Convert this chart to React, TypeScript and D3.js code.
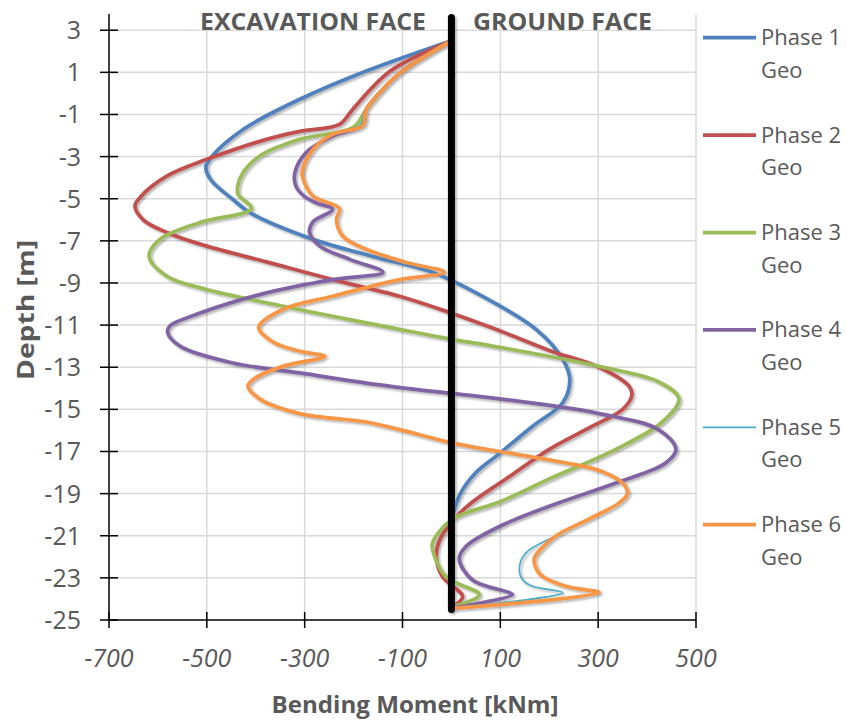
import React from 'react';
import * as d3 from 'd3';

// [bending moment kNm, depth m]
const phase1: [number, number][] = [
  [0, 2.5], [-174, 1.06], [-310, -0.28], [-426, -1.71], [-490, -3.0], [-502, -3.5],
  [-492, -4.1], [-447, -5.03], [-412, -5.66], [-283, -6.93], [-161, -7.74], [-38, -8.5],
  [57, -9.55], [173, -11.2], [227, -12.6], [242, -13.6], [227, -14.7], [166, -15.8],
  [98, -17.1], [50, -18.0], [16, -19.1], [3, -20.1], [0, -22.3], [0, -24.4],
];
const phase2: [number, number][] = [
  [0, 2.5], [-125, 1.06], [-202, -0.76], [-229, -1.47], [-310, -1.8], [-378, -2.18],
  [-500, -3.13], [-582, -3.93], [-637, -4.95], [-647, -5.35], [-630, -6.0], [-582, -6.6],
  [-500, -7.25], [-378, -8.0], [-243, -8.84], [-106, -9.63], [-4, -10.4], [91, -11.2],
  [200, -12.2], [302, -13.0], [363, -13.9], [369, -14.3], [350, -15.0], [288, -15.8],
  [200, -16.9], [118, -18.2], [43, -19.4], [10, -20.1], [-24, -21.2], [-31, -22.0],
  [-18, -22.95], [23, -23.9], [0, -24.4],
];
const phase3: [number, number][] = [
  [0, 2.5], [-100, 1.06], [-140, 0.2], [-174, -0.76], [-200, -1.6], [-310, -2.18],
  [-392, -2.97], [-426, -3.76], [-437, -4.4], [-436, -4.8], [-409, -5.46], [-514, -6.13],
  [-596, -6.93], [-618, -7.73], [-582, -8.68], [-500, -9.31], [-378, -9.94], [-243, -10.58],
  [-106, -11.2], [-4, -11.65], [98, -12.05], [302, -12.96], [424, -13.7], [465, -14.5],
  [431, -15.6], [336, -16.9], [200, -18.3], [98, -19.4], [3, -20.2], [-38, -21.3],
  [-38, -21.7], [-11, -22.95], [57, -23.8], [0, -24.4],
];
const phase4: [number, number][] = [
  [0, 2.5], [-100, 1.06], [-140, 0.2], [-174, -0.76], [-181, -1.5], [-243, -2.02],
  [-297, -2.81], [-320, -3.76], [-318, -4.4], [-300, -4.9], [-276, -5.2], [-243, -5.5],
  [-283, -6.1], [-290, -6.6], [-269, -7.25], [-208, -7.88], [-140, -8.49], [-243, -8.84],
  [-378, -9.47], [-514, -10.43], [-576, -11.05], [-580, -11.36], [-555, -12.0], [-447, -12.8],
  [-310, -13.27], [-174, -13.75], [-38, -14.15], [98, -14.5], [302, -15.2], [424, -15.97],
  [459, -16.9], [438, -17.55], [336, -18.5], [200, -19.6], [98, -20.56], [30, -21.5],
  [16, -22.1], [43, -23.1], [118, -23.7], [125, -23.8], [0, -24.45],
];
const phase5: [number, number][] = [
  [0, 2.5], [-100, 1.06], [-140, 0.2], [-174, -0.76], [-188, -1.55], [-243, -1.94],
  [-283, -2.66], [-302, -3.45], [-305, -3.9], [-283, -4.88], [-229, -5.46], [-235, -5.98],
  [-222, -6.78], [-174, -7.4], [-92, -8.03], [-14, -8.49], [-106, -8.84], [-243, -9.63],
  [-345, -10.26], [-394, -11.1], [-365, -11.8], [-310, -12.24], [-259, -12.48], [-345, -12.96],
  [-406, -13.59], [-416, -13.9], [-392, -14.5], [-310, -15.2], [-174, -15.6], [-106, -15.96],
  [3, -16.6], [98, -17.0], [200, -17.4], [302, -17.9], [350, -18.5], [360, -18.98],
  [343, -19.44], [282, -20.2], [214, -21.0], [153, -21.8], [139, -22.5], [146, -23.1],
  [166, -23.4], [228, -23.7], [0, -24.45],
];
const phase6: [number, number][] = [
  [0, 2.5], [-100, 1.06], [-140, 0.2], [-174, -0.76], [-181, -1.52], [-243, -1.94],
  [-283, -2.66], [-302, -3.45], [-305, -3.9], [-283, -4.88], [-229, -5.46], [-235, -5.98],
  [-222, -6.78], [-174, -7.4], [-92, -8.03], [-14, -8.49], [-106, -8.84], [-243, -9.63],
  [-345, -10.26], [-394, -11.1], [-365, -11.8], [-310, -12.24], [-259, -12.48], [-345, -12.96],
  [-406, -13.59], [-416, -13.9], [-392, -14.5], [-310, -15.2], [-174, -15.6], [-106, -15.96],
  [3, -16.6], [98, -17.0], [200, -17.4], [302, -17.9], [350, -18.5], [360, -18.98],
  [343, -19.44], [282, -20.2], [214, -21.0], [180, -21.7], [169, -22.1], [180, -22.8],
  [234, -23.4], [302, -23.7], [0, -24.45],
];
const wall: [number, number][] = [[0, 3.6], [0, -24.5]];

const seriesData = [phase1, phase2, phase3, phase4, phase5, phase6];
const seriesNames = ['Phase 1', 'Phase 2', 'Phase 3', 'Phase 4', 'Phase 5', 'Phase 6'];
const seriesColors = ['#4F81BD', '#C0504D', '#9BBB59', '#8064A2', '#4BACC6', '#F79646'];

const depthTicks = [3, 1, -1, -3, -5, -7, -9, -11, -13, -15, -17, -19, -21, -23, -25];
const momentTicks = [-700, -500, -300, -100, 100, 300, 500];

const W = 847;
const H = 722;
const FONT = '"Open Sans", "DejaVu Sans", sans-serif';
const GREY = '#595959';

export default function App() {
  const left = 109;
  const right = 696;
  const top = 14;
  const bottom = 620;

  const x = d3.scaleLinear().domain([-700, 500]).range([left, right]);
  const y = d3.scaleLinear().domain([-25, 3.77]).range([bottom, top]);

  const line = d3.line<[number, number]>()
    .curve(d3.curveCatmullRom.alpha(0.5))
    .x(d => x(d[0]))
    .y(d => y(d[1]));

  const legendX = 703;
  const legendY = 37.7;
  const legendStep = 97.4;

  return (
    <svg width={W} height={H} style={{ position: 'absolute', left: 0, top: 0, background: '#fff' }}>
      <defs>
        <filter id="shadow" x="-10%" y="-10%" width="120%" height="120%">
          <feDropShadow dx="1.8" dy="1.8" stdDeviation="1.3" floodColor="#000" floodOpacity="0.3" />
        </filter>
      </defs>
      <rect width={W} height={H} fill="#fff" />

      {/* gridlines */}
      {depthTicks.filter(d => d !== -25).map(d => (
        <line key={'h' + d} x1={left} x2={right} y1={y(d)} y2={y(d)} stroke="#D9D9D9" strokeWidth={1.5} />
      ))}
      {momentTicks.filter(m => m !== -700).map(m => (
        <line key={'v' + m} x1={x(m)} x2={x(m)} y1={top} y2={bottom} stroke="#D9D9D9" strokeWidth={1.5} />
      ))}

      {/* title boxes with white fill over the grid */}
      <rect x={196} y={4} width={234} height={25.5} fill="#fff" />
      <rect x={468} y={4} width={190} height={25.5} fill="#fff" />
      <text x={200} y={30} fontFamily={FONT} fontWeight="bold" fontSize={23} fill={GREY}
        textLength={226} lengthAdjust="spacingAndGlyphs">EXCAVATION FACE</text>
      <text x={473} y={30} fontFamily={FONT} fontWeight="bold" fontSize={23} fill={GREY}
        textLength={179} lengthAdjust="spacingAndGlyphs">GROUND FACE</text>

      {/* axes */}
      <line x1={left} x2={left} y1={top} y2={bottom} stroke="#000" strokeWidth={1.5} />
      <line x1={left} x2={right} y1={bottom} y2={bottom} stroke="#000" strokeWidth={1.5} />
      {depthTicks.map(d => (
        <g key={'yt' + d}>
          <line x1={left - 9} x2={left + 9} y1={y(d)} y2={y(d)} stroke="#000" strokeWidth={1.5} />
          <text x={81} y={y(d) + 9} textAnchor="end" fontFamily={FONT} fontSize={25} fill={GREY}>{d}</text>
        </g>
      ))}
      {momentTicks.map(m => (
        <g key={'xt' + m}>
          <line x1={x(m)} x2={x(m)} y1={bottom - 8} y2={bottom + 8} stroke="#000" strokeWidth={1.5} />
          <text x={x(m)} y={667} textAnchor="middle" fontFamily={FONT} fontStyle="italic" fontSize={25} fill={GREY}>{m}</text>
        </g>
      ))}

      {/* axis titles */}
      <text transform="translate(33.5,310) rotate(-90)" textAnchor="middle" fontFamily={FONT} fontWeight="bold"
        fontSize={23} fill={GREY} textLength={140} lengthAdjust="spacingAndGlyphs">Depth  [m]</text>
      <text x={415} y={713} textAnchor="middle" fontFamily={FONT} fontWeight="bold" fontSize={23} fill={GREY}
        textLength={287} lengthAdjust="spacingAndGlyphs">Bending Moment [kNm]</text>

      {/* series */}
      <g filter="url(#shadow)">
        {seriesData.map((data, i) => (
          <path key={seriesNames[i]} d={line(data) || ''} fill="none" stroke={seriesColors[i]}
            strokeWidth={i === 4 ? 1.75 : 3.75} strokeLinejoin="round" strokeLinecap="round" />
        ))}
        <path d={line(wall) || ''} fill="none" stroke="#000" strokeWidth={7} strokeLinecap="round" />
      </g>

      {/* legend */}
      {seriesNames.map((name, i) => {
        const ly = legendY + i * legendStep;
        return (
          <g key={'lg' + name}>
            <line x1={legendX} x2={legendX + 53} y1={ly} y2={ly} stroke={seriesColors[i]}
              strokeWidth={i === 4 ? 1.75 : 3.75} />
            <text x={761} y={ly + 7.5} fontFamily={FONT} fontSize={22} fill={GREY}>{name}</text>
            <text x={761} y={ly + 40} fontFamily={FONT} fontSize={22} fill={GREY}>Geo</text>
          </g>
        );
      })}
    </svg>
  );
}
